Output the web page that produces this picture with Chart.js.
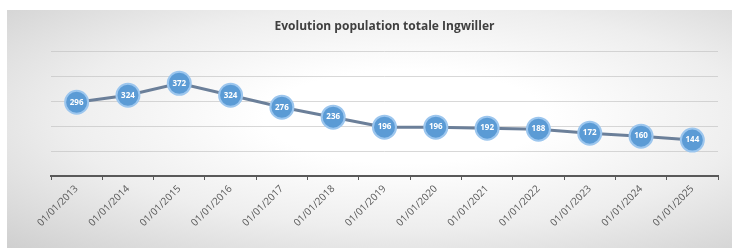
<!DOCTYPE html>
<html>
<head>
<meta charset="utf-8">
<script src="https://cdn.jsdelivr.net/npm/chart.js@4/dist/chart.umd.min.js"></script>
<style>
  html, body { margin: 0; padding: 0; background: #fff; }
  #wrap {
    position: absolute; left: 7px; top: 10px; width: 725px; height: 238px;
    background: radial-gradient(ellipse at 55% 45%, #ffffff 25%, #eeeeee 60%, #cfcfcf 100%);
  }
  canvas { display: block; }
</style>
</head>
<body>
<div id="wrap"><canvas id="chart" width="725" height="238"></canvas></div>
<script>
const labels = ["01/01/2013", "01/01/2014", "01/01/2015", "01/01/2016", "01/01/2017",
  "01/01/2018", "01/01/2019", "01/01/2020", "01/01/2021", "01/01/2022",
  "01/01/2023", "01/01/2024", "01/01/2025"];
const population = [296, 324, 372, 324, 276, 236, 196, 196, 192, 188, 172, 160, 144];
const chartTitle = "Evolution population totale Ingwiller";

// write the value inside each marker
const pointLabels = {
  id: "pointLabels",
  afterDatasetsDraw(chart) {
    const ctx = chart.ctx;
    const meta = chart.getDatasetMeta(0);
    ctx.save();
    ctx.fillStyle = "#ffffff";
    ctx.font = "bold 8px 'Open Sans', sans-serif";
    ctx.textAlign = "center";
    ctx.textBaseline = "middle";
    meta.data.forEach((pt, i) => {
      ctx.fillText(String(population[i]), pt.x, pt.y);
    });
    ctx.restore();
  }
};

new Chart("chart", {
  type: "line",
  data: {
    labels: labels,
    datasets: [{
      data: population,
      borderColor: "#6b7f99",
      borderWidth: 3,
      tension: 0,
      fill: false,
      pointRadius: 11.5,
      pointHoverRadius: 11.5,
      pointBackgroundColor: "#5b9bd5",
      pointBorderColor: "#9cc6ee",
      pointBorderWidth: 2
    }]
  },
  options: {
    responsive: false,
    animation: false,
    layout: { padding: { left: 44, right: 14, top: 0, bottom: 0 } },
    plugins: {
      legend: { display: false },
      tooltip: { enabled: false },
      title: {
        display: true,
        text: chartTitle,
        color: "#404040",
        font: { family: "'Open Sans', sans-serif", size: 12, weight: "bold" },
        padding: { top: 9, bottom: 18 }
      }
    },
    scales: {
      x: {
        offset: true,
        afterFit(scale) { scale.height = 72; },
        grid: { display: true, offset: true, drawOnChartArea: false, tickLength: 4, color: "#595959" },
        border: { color: "#595959", width: 2 },
        ticks: {
          color: "#595959",
          font: { family: "'Open Sans', sans-serif", size: 10 },
          maxRotation: 45,
          minRotation: 45,
          padding: 3
        }
      },
      y: {
        min: 0,
        max: 500,
        ticks: { display: false, stepSize: 100 },
        border: { display: false },
        grid: { color: "rgba(190,190,190,0.6)", lineWidth: 1, drawTicks: false }
      }
    }
  },
  plugins: [pointLabels]
});
</script>
</body>
</html>
